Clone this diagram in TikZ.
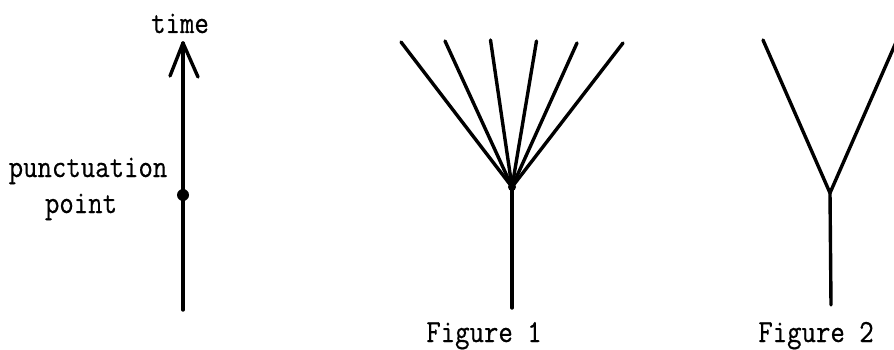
\documentclass[tikz,border=0pt]{standalone}
\usepackage{fontspec}
\usepackage{graphicx}
\setmainfont{Latin Modern Mono}[FakeBold=0.6]
\newcommand{\tallt}[1]{\scalebox{1}[1.15]{#1}}
\begin{document}
\begin{tikzpicture}[x=1pt,y=-1pt,
  stroke/.style={line width=3.4pt,line cap=round,line join=round},
  lbl/.style={font=\fontsize{28}{36}\selectfont,inner sep=0pt,anchor=base}]
\useasboundingbox (0,0) rectangle (894,350);
% time axis
\coordinate (tbot) at (183,310);
\coordinate (ttip) at (183,43);
\coordinate (tal) at (170,76);
\coordinate (tar) at (198,77);
\coordinate (pp) at (183,195);
\draw[stroke] (tbot) -- (ttip);
\draw[stroke] (tal) -- (ttip) -- (tar);
\fill (pp) circle (6);
\node[lbl] (time) at (180,33) {\tallt{time}};
\node[lbl] (punct) at (88,177) {\tallt{punctuation}};
\node[lbl] (point) at (81,213) {\tallt{point}};
% Figure 1
\coordinate (f1b) at (512,308);
\coordinate (f1j) at (512,187);
\coordinate (a1) at (401,42);
\coordinate (a2) at (445,41);
\coordinate (a3) at (490.5,40);
\coordinate (a4) at (536.5,41);
\coordinate (a5) at (577,43);
\coordinate (a6) at (623,43);
\draw[stroke] (f1b) -- (f1j);
\foreach \p in {a1,a2,a3,a4,a5,a6} \draw[stroke] (f1j) -- (\p);
\fill (f1j) circle (4);
\node[lbl] (fig1) at (484,342) {\tallt{Figure 1}};
% Figure 2
\coordinate (f2b) at (831,305);
\coordinate (f2j) at (830,193);
\coordinate (b1) at (763,40);
\coordinate (b2) at (897,40);
\draw[stroke] (f2b) -- (f2j);
\draw[stroke] (b1) -- (f2j) -- (b2);
\node[lbl] (fig2) at (816,342) {\tallt{Figure 2}};
\end{tikzpicture}
\end{document}
